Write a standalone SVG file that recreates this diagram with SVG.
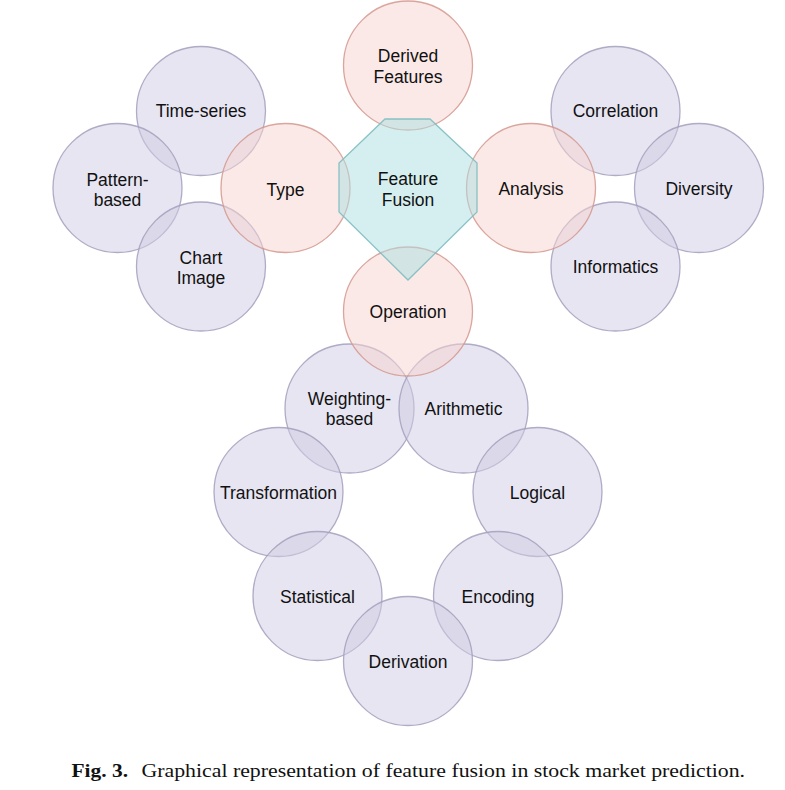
<svg xmlns="http://www.w3.org/2000/svg" width="785" height="790" viewBox="0 0 785 790">
<style>
.lav{fill:#cfcbe3;fill-opacity:.5;stroke:#a29fbd;stroke-opacity:.85;stroke-width:1.3}
.pink{fill:#f7d3cf;fill-opacity:.5;stroke:#d3978d;stroke-opacity:.85;stroke-width:1.3}
.teal{fill:#abdfe1;fill-opacity:.5;stroke:#80bcc0;stroke-opacity:.9;stroke-width:1.3}
.lbl{font-family:"Liberation Sans",Arial,Helvetica,sans-serif;font-size:17.5px;fill:#111;text-anchor:middle}
.cap{font-family:"Liberation Serif","Times New Roman",serif;font-size:18.5px;fill:#111}
</style>
<rect width="785" height="790" fill="#fff"/>
<g id="connectors"/>
<g id="n-timeseries"><circle class="lav" cx="201" cy="111" r="64.5"/><text class="lbl" x="201" y="117">Time-series</text></g>
<g id="n-pattern"><circle class="lav" cx="117.5" cy="188" r="64.5"/><text class="lbl" x="117.5" y="186">Pattern-</text><text class="lbl" x="117.5" y="206">based</text></g>
<g id="n-chart"><circle class="lav" cx="201" cy="266.5" r="64.5"/><text class="lbl" x="201" y="264">Chart</text><text class="lbl" x="201" y="284">Image</text></g>
<g id="n-correlation"><circle class="lav" cx="615.5" cy="111" r="64.5"/><text class="lbl" x="615.5" y="117">Correlation</text></g>
<g id="n-diversity"><circle class="lav" cx="699" cy="188" r="64.5"/><text class="lbl" x="699" y="195">Diversity</text></g>
<g id="n-informatics"><circle class="lav" cx="615.5" cy="266.5" r="64.5"/><text class="lbl" x="615.5" y="273">Informatics</text></g>
<g id="n-weighting"><circle class="lav" cx="349.5" cy="408.5" r="64.5"/><text class="lbl" x="349.5" y="405">Weighting-</text><text class="lbl" x="349.5" y="425">based</text></g>
<g id="n-arithmetic"><circle class="lav" cx="463.5" cy="408.5" r="64.5"/><text class="lbl" x="463.5" y="415">Arithmetic</text></g>
<g id="n-transformation"><circle class="lav" cx="278.5" cy="492" r="64.5"/><text class="lbl" x="278.5" y="499">Transformation</text></g>
<g id="n-logical"><circle class="lav" cx="537.5" cy="492" r="64.5"/><text class="lbl" x="537.5" y="499">Logical</text></g>
<g id="n-statistical"><circle class="lav" cx="317.5" cy="596" r="64.5"/><text class="lbl" x="317.5" y="603">Statistical</text></g>
<g id="n-encoding"><circle class="lav" cx="498" cy="596" r="64.5"/><text class="lbl" x="498" y="603">Encoding</text></g>
<g id="n-derivation"><circle class="lav" cx="408" cy="661" r="64.5"/><text class="lbl" x="408" y="668">Derivation</text></g>
<g id="n-derived"><circle class="pink" cx="408" cy="65.5" r="64.5"/><text class="lbl" x="408" y="62">Derived</text><text class="lbl" x="408" y="83">Features</text></g>
<g id="n-type"><circle class="pink" cx="285.5" cy="188" r="64.5"/><text class="lbl" x="285.5" y="196">Type</text></g>
<g id="n-analysis"><circle class="pink" cx="531" cy="188" r="64.5"/><text class="lbl" x="531" y="195">Analysis</text></g>
<g id="n-operation"><circle class="pink" cx="408" cy="311.5" r="64.5"/><text class="lbl" x="408" y="318">Operation</text></g>
<g id="n-fusion"><polygon class="teal" points="385,119 430,119 477,163 477,212 408,280 339,212 339,163"/><text class="lbl" x="408" y="185">Feature</text><text class="lbl" x="408" y="206">Fusion</text></g>
<g id="caption"><text class="cap" x="71.5" y="776.5" font-weight="bold" textLength="56.5" lengthAdjust="spacingAndGlyphs">Fig. 3.</text><text class="cap" x="141.5" y="776.5" textLength="603.5" lengthAdjust="spacingAndGlyphs">Graphical representation of feature fusion in stock market prediction.</text></g>
</svg>
